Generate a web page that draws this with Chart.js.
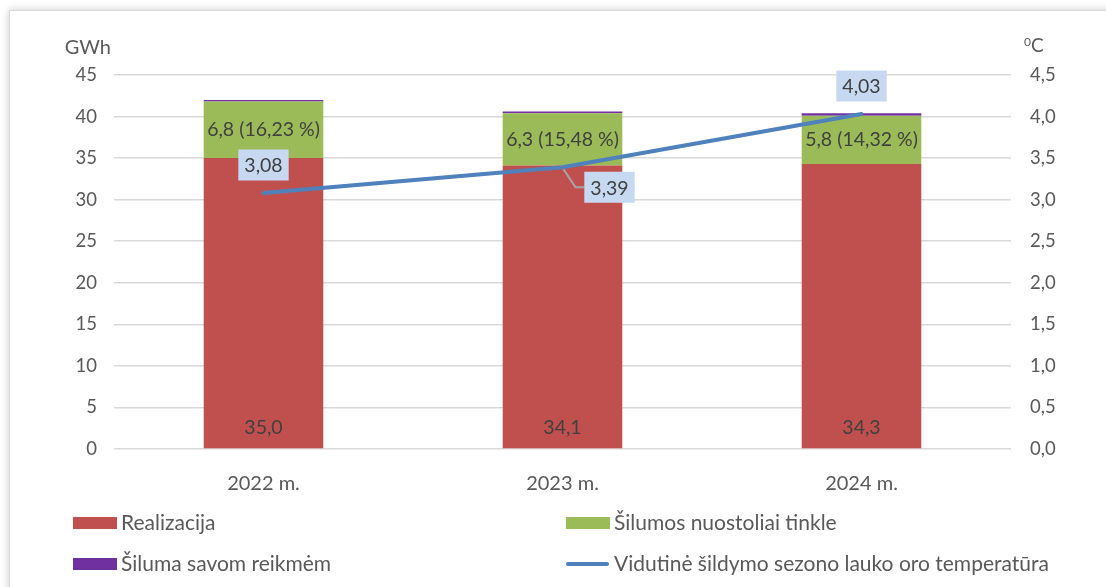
<!DOCTYPE html>
<html>
<head>
<meta charset="utf-8">
<script src="https://cdn.jsdelivr.net/npm/chart.js@4.4.1/dist/chart.umd.min.js"></script>
<style>
    html, body { margin: 0; padding: 0; background: #fff; overflow: hidden; }
    #wrap { position: relative; width: 1106px; height: 587px; }
    #frame {
        position: absolute; left: 9px; top: 10px; width: 1200px; height: 700px;
        border: 1px solid #d9d9d9; box-shadow: 0 0 8px rgba(0, 0, 0, 0.22); background: #fff;
    }
    #chart { position: absolute; left: 0; top: 0; }
</style>
</head>
<body>
<div id="wrap">
    <div id="frame"></div>
    <canvas id="chart" width="1106" height="587"></canvas>
</div>
<script>
// Data
const years = ['2022 m.', '2023 m.', '2024 m.'];
const realizacija = [35.0, 34.1, 34.3];
const nuostoliai = [6.8, 6.3, 5.8];
const nuostoliaiPct = ['16,23', '15,48', '14,32'];
const savosReikmes = [0.2, 0.2, 0.3];
const temperatura = [3.08, 3.39, 4.03];
const gwhTicks = [0, 5, 10, 15, 20, 25, 30, 35, 40, 45];
const tempTicks = [0, 0.5, 1, 1.5, 2, 2.5, 3, 3.5, 4, 4.5];

const FONT = 'Lato, "Open Sans", sans-serif';
const textColor = '#595959';
const labelColor = '#404040';

const fmt = (v, d) => v.toFixed(d).replace('.', ',');

// Data labels, axis titles and legend drawn on the canvas
const extras = {
    id: 'extras',
    afterDatasetsDraw(chart) {
        const ctx = chart.ctx;
        const area = chart.chartArea;
        ctx.save();
        ctx.font = '19.5px ' + FONT;
        ctx.textAlign = 'center';
        ctx.textBaseline = 'middle';

        // Realizacija values near the base of each bar
        chart.getDatasetMeta(0).data.forEach((el, i) => {
            ctx.fillStyle = labelColor;
            ctx.fillText(fmt(realizacija[i], 1), el.x, el.base - 21);
        });

        // losses with percentage in the middle of the green part
        chart.getDatasetMeta(1).data.forEach((el, i) => {
            ctx.fillStyle = labelColor;
            ctx.fillText(fmt(nuostoliai[i], 1) + ' (' + nuostoliaiPct[i] + ' %)', el.x, (el.y + el.base) / 2);
        });

        // temperature labels in light blue boxes
        const pts = chart.getDatasetMeta(3).data;
        pts.forEach((p, i) => {
            const txt = fmt(temperatura[i], 2);
            const w = ctx.measureText(txt).width + 12;
            const h = 31;
            let cx = p.x, cy = p.y - 28;
            if (i === 1) {
                cx = p.x + 47;
                cy = p.y + 20;
                ctx.strokeStyle = '#a6a6a6';
                ctx.lineWidth = 2;
                ctx.beginPath();
                ctx.moveTo(p.x + 1, p.y + 2);
                ctx.lineTo(p.x + 13, cy);
                ctx.lineTo(cx - w / 2, cy);
                ctx.stroke();
            }
            ctx.fillStyle = '#c6d9f1';
            ctx.fillRect(cx - w / 2, cy - h / 2, w, h);
            ctx.fillStyle = labelColor;
            ctx.fillText(txt, cx, cy + 1);
        });

        // axis titles
        ctx.fillStyle = textColor;
        ctx.textAlign = 'right';
        ctx.font = '20px ' + FONT;
        ctx.fillText('GWh', area.left - 3, area.top - 27);
        ctx.textAlign = 'left';
        ctx.font = '12px ' + FONT;
        ctx.fillText('0', area.right + 13, area.top - 33);
        ctx.font = '19px ' + FONT;
        ctx.fillText('C', area.right + 20, area.top - 29);

        // legend, two columns
        ctx.font = '21px ' + FONT;
        const items = [
            { text: 'Realizacija', color: '#c0504d', x: 73, y: 523 },
            { text: 'Šilumos nuostoliai tinkle', color: '#9bbb59', x: 566, y: 523 },
            { text: 'Šiluma savom reikmėm', color: '#7030a0', x: 73, y: 564 },
            { text: 'Vidutinė šildymo sezono lauko oro temperatūra', color: '#4f81bd', x: 566, y: 564, line: true }
        ];
        items.forEach(it => {
            if (it.line) {
                ctx.strokeStyle = it.color;
                ctx.lineWidth = 4;
                ctx.lineCap = 'round';
                ctx.beginPath();
                ctx.moveTo(it.x + 2, it.y);
                ctx.lineTo(it.x + 41, it.y);
                ctx.stroke();
            } else {
                ctx.fillStyle = it.color;
                ctx.fillRect(it.x, it.y - 6, 44, 12);
            }
            ctx.fillStyle = textColor;
            ctx.fillText(it.text, it.x + 48, it.y);
        });
        ctx.restore();
    }
};

const ctx = document.getElementById('chart').getContext('2d');
const chart = new Chart(ctx, {
    data: {
        labels: years,
        datasets: [
            { type: 'bar', label: 'Realizacija', data: realizacija, backgroundColor: '#c0504d', yAxisID: 'y', order: 1 },
            { type: 'bar', label: 'Šilumos nuostoliai tinkle', data: nuostoliai, backgroundColor: '#9bbb59', yAxisID: 'y', order: 1 },
            { type: 'bar', label: 'Šiluma savom reikmėm', data: savosReikmes, backgroundColor: '#7030a0', yAxisID: 'y', order: 1 },
            {
                type: 'line', label: 'Vidutinė šildymo sezono lauko oro temperatūra', data: temperatura,
                borderColor: '#4f81bd', borderWidth: 4, pointRadius: 0, tension: 0,
                yAxisID: 'y2', order: 0, borderCapStyle: 'round'
            }
        ]
    },
    options: {
        responsive: false,
        animation: false,
        devicePixelRatio: 1,
        layout: { padding: { left: 0, right: 0, top: 75, bottom: 88 } },
        datasets: { bar: { barPercentage: 0.4, categoryPercentage: 1 } },
        plugins: { legend: { display: false }, tooltip: { enabled: false } },
        scales: {
            x: {
                stacked: true,
                grid: { display: false },
                border: { display: false },
                ticks: { color: textColor, font: { family: FONT, size: 20 }, padding: 15 },
                afterFit(s) { s.height = 50; }
            },
            y: {
                stacked: true,
                position: 'left',
                min: 0, max: 45,
                afterBuildTicks(s) { s.ticks = gwhTicks.map(v => ({ value: v })); },
                grid: { color: '#d9d9d9', lineWidth: 1.5, drawTicks: false },
                border: { display: false },
                ticks: { color: textColor, font: { family: FONT, size: 18.5 }, padding: 17 },
                afterFit(s) { s.width = 114; }
            },
            y2: {
                position: 'right',
                min: 0, max: 4.5,
                afterBuildTicks(s) { s.ticks = tempTicks.map(v => ({ value: v })); },
                grid: { display: false, drawTicks: false },
                border: { display: false },
                ticks: { color: textColor, font: { family: FONT, size: 18.5 }, padding: 19, callback: v => fmt(v, 1) },
                afterFit(s) { s.width = 95; }
            }
        }
    },
    plugins: [extras]
});
</script>
</body>
</html>
